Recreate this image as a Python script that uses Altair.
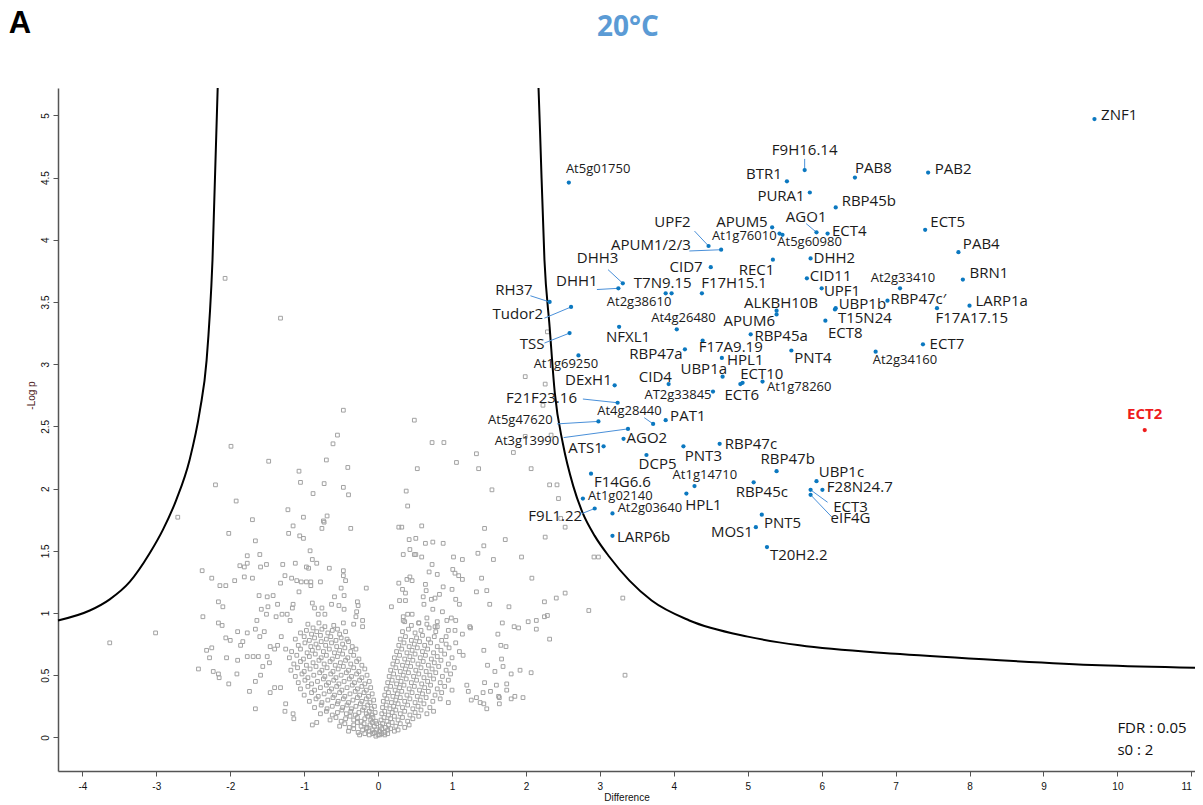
import re
import altair as alt
import pandas as pd

# ---------------- highlighted proteins (Difference, -Log p) ----------------
names = ["ZNF1", "F9H16.14", "At5g01750", "BTR1", "PAB8", "PAB2", "PURA1", "RBP45b", "ECT5", "AGO1",
         "ECT4", "APUM5", "At1g76010", "At5g60980", "UPF2", "APUM1/2/3", "PAB4", "DHH2", "REC1", "CID7",
         "CID11", "At2g33410", "BRN1", "DHH3", "DHH1", "T7N9.15", "At2g38610", "F17H15.1", "UPF1", "RH37",
         "ALKBH10B", "UBP1b", "RBP47c′", "LARP1a", "Tudor2", "At4g26480", "APUM6", "T15N24", "F17A17.15", "TSS",
         "NFXL1", "RBP45a", "ECT8", "ECT7", "RBP47a", "F17A9.19", "HPL1", "PNT4", "At2g34160", "At1g69250",
         "UBP1a", "ECT10", "At1g78260", "ECT6", "CID4", "DExH1", "AT2g33845", "F21F23.16", "At4g28440", "PAT1",
         "At5g47620", "At3g13990", "AGO2", "ATS1", "PNT3", "RBP47c", "DCP5", "RBP47b", "F14G6.6", "At1g14710",
         "UBP1c", "RBP45c", "F28N24.7", "ECT3", "eIF4G", "HPL1", "At1g02140", "F9L1.22", "At2g03640", "PNT5",
         "MOS1", "LARP6b", "T20H2.2"]
diff = [9.69, 5.77, 2.58, 5.53, 6.45, 7.44, 5.84, 6.19, 7.40, 5.93,
        6.08, 5.33, 5.43, 5.47, 4.47, 4.64, 7.85, 5.85, 5.34, 4.50,
        5.80, 7.06, 7.91, 3.31, 3.25, 3.97, 3.89, 4.38, 6.00, 2.32,
        5.39, 6.19, 6.89, 8.00, 2.61, 4.04, 5.39, 6.18, 7.56, 2.59,
        3.26, 5.04, 6.05, 7.37, 4.15, 4.39, 4.65, 5.59, 6.73, 2.71,
        4.66, 4.93, 5.20, 4.90, 3.93, 3.20, 4.53, 3.24, 3.72, 3.89,
        2.98, 3.38, 3.32, 3.05, 4.13, 4.62, 3.63, 5.39, 2.88, 4.28,
        5.93, 5.08, 6.01, 5.85, 5.85, 4.17, 2.77, 2.93, 3.17, 5.19,
        5.11, 3.17, 5.26]
logp = [4.97, 4.56, 4.46, 4.47, 4.50, 4.54, 4.38, 4.26, 4.08, 4.06,
        4.05, 4.10, 4.05, 4.04, 3.95, 3.92, 3.90, 3.85, 3.84, 3.78,
        3.69, 3.61, 3.68, 3.65, 3.61, 3.57, 3.57, 3.57, 3.61, 3.50,
        3.43, 3.45, 3.51, 3.47, 3.46, 3.28, 3.40, 3.44, 3.45, 3.25,
        3.30, 3.24, 3.35, 3.16, 3.12, 3.19, 3.05, 3.11, 3.10, 3.07,
        2.90, 2.85, 2.86, 2.84, 2.84, 2.83, 2.78, 2.69, 2.52, 2.55,
        2.54, 2.48, 2.40, 2.34, 2.34, 2.36, 2.27, 2.14, 2.12, 2.02,
        2.06, 2.05, 1.99, 1.99, 1.95, 1.96, 1.92, 1.84, 1.80, 1.79,
        1.69, 1.62, 1.53]

# bait
bait_name = ["ECT2"]
bait_diff = [10.37]
bait_logp = [2.47]

# ---------------- label placement (annotation) ----------------
lab_x = [9.78, 5.77, 2.54, 5.46, 6.45, 7.53, 5.77, 6.27, 7.47, 5.79,
         6.14, 5.27, 5.39, 5.40, 3.98, 3.69, 7.91, 5.89, 5.36, 4.39,
         5.84, 7.10, 8.00, 2.97, 2.97, 3.85, 3.53, 4.37, 6.03, 2.09,
         5.45, 6.23, 6.93, 8.08, 2.23, 4.13, 5.37, 6.22, 7.54, 2.25,
         3.38, 5.09, 6.32, 7.46, 4.12, 4.77, 4.72, 5.63, 6.69, 2.54,
         4.72, 5.19, 5.26, 4.92, 3.75, 3.16, 4.51, 2.69, 3.40, 3.95,
         2.36, 2.45, 3.36, 3.04, 4.40, 4.69, 3.78, 5.54, 2.92, 4.42,
         5.96, 5.19, 6.07, 6.39, 6.39, 4.40, 2.84, 2.76, 3.24, 5.22,
         5.07, 3.23, 5.30]
lab_y = [5.00, 4.72, 4.57, 4.53, 4.58, 4.57, 4.35, 4.31, 4.14, 4.18,
         4.07, 4.14, 4.03, 3.98, 4.14, 3.96, 3.97, 3.85, 3.76, 3.78,
         3.71, 3.69, 3.73, 3.85, 3.67, 3.65, 3.50, 3.65, 3.59, 3.60,
         3.49, 3.48, 3.52, 3.51, 3.40, 3.37, 3.35, 3.37, 3.37, 3.16,
         3.22, 3.23, 3.25, 3.16, 3.08, 3.14, 3.03, 3.05, 3.03, 3.00,
         2.96, 2.92, 2.82, 2.75, 2.90, 2.87, 2.75, 2.73, 2.62, 2.58,
         2.55, 2.38, 2.41, 2.33, 2.26, 2.36, 2.20, 2.24, 2.05, 2.11,
         2.13, 1.97, 2.01, 1.85, 1.76, 1.87, 1.94, 1.78, 1.84, 1.72,
         1.65, 1.61, 1.47]
lab_al = ["left", "center", "left", "right", "left", "left", "right", "left", "left", "center",
          "left", "right", "right", "left", "center", "center", "left", "left", "right", "right",
          "left", "center", "left", "center", "right", "center", "center", "left", "left", "right",
          "center", "left", "left", "left", "right", "center", "right", "left", "left", "right",
          "center", "left", "center", "left", "right", "center", "left", "left", "left", "center",
          "right", "center", "left", "center", "center", "right", "right", "right", "center", "left",
          "right", "right", "left", "right", "center", "left", "center", "center", "left", "center",
          "left", "center", "left", "center", "center", "center", "left", "right", "left", "left",
          "right", "left", "left"]

# leader lines: label name -> end point near label
lead_name = ["F9H16.14", "AGO1", "UPF2", "APUM1/2/3", "DHH3", "DHH1", "RH37", "Tudor2", "TSS",
             "F21F23.16", "At4g28440", "At5g47620", "At3g13990", "ECT3", "eIF4G", "F9L1.22"]
lead_x2 = [5.77, 5.79, 4.28, 4.21, 3.11, 2.96, 2.06, 2.25, 2.25, 2.77, 3.60, 2.42, 2.51, 6.08, 6.14, 2.76]
lead_y2 = [4.65, 4.13, 4.07, 3.91, 3.76, 3.60, 3.55, 3.37, 3.17, 2.72, 2.57, 2.52, 2.41, 1.89, 1.77, 1.80]

# ---------------- FDR threshold curves ----------------
curve_r_x = [2.17, 2.19, 2.25, 2.32, 2.39, 2.50, 2.64, 2.77, 2.93, 3.13, 3.40, 3.70, 4.21, 5.00, 5.70, 7.06, 8.41, 9.76, 11.05]
curve_r_y = [5.22, 4.88, 3.84, 3.30, 2.77, 2.36, 2.02, 1.80, 1.62, 1.45, 1.26, 1.10, 0.94, 0.81, 0.74, 0.67, 0.62, 0.58, 0.56]
curve_l_x = [-2.17, -2.24, -2.32, -2.41, -2.55, -2.73, -2.91, -3.09, -3.36, -3.63, -3.90, -4.33]
curve_l_y = [5.22, 3.84, 3.03, 2.63, 2.23, 1.91, 1.67, 1.48, 1.25, 1.11, 1.02, 0.94]

# ---------------- background proteins (Difference, -Log p) ----------------
gray_outer = [
    (-2.07, 3.69), (-1.32, 3.37), (2.29, 3.26), (1.99, 2.90), (2.26, 2.84), (-0.47, 2.63), (0.49, 2.55), (2.23, 2.67),
    (-0.55, 2.43), (-0.61, 2.36), (-1.99, 2.34), (0.73, 2.37), (0.89, 2.37), (1.99, 2.42), (2.34, 2.43), (1.83, 2.29),
    (1.33, 2.28), (-1.48, 2.22), (-0.70, 2.23), (-1.07, 2.14), (-0.41, 2.17), (1.06, 2.21), (0.53, 2.16), (1.36, 2.16),
    (2.07, 2.16), (-2.20, 2.03), (-1.05, 2.05), (-0.73, 2.04), (-0.47, 2.01), (-0.88, 1.96), (-0.40, 1.95), (0.38, 1.98),
    (1.54, 1.99), (2.32, 2.03), (2.42, 2.03), (-1.92, 1.90), (2.44, 1.92), (-1.22, 1.83), (0.40, 1.86), (-2.71, 1.77),
    (-1.70, 1.75), (-1.01, 1.77), (-0.69, 1.78), (-0.73, 1.73), (-1.15, 1.70), (0.59, 1.70), (0.32, 1.69), (0.28, 1.69),
    (1.44, 1.68), (2.47, 1.76), (2.53, 1.69), (-0.37, 1.68), (-0.76, 1.68), (-3.01, 0.84), (-3.63, 0.76), (3.34, 0.50),
    (3.31, 1.12), (2.85, 1.02), (2.92, 1.45), (2.98, 1.45), (2.26, 1.61), (2.41, 1.12), (2.53, 1.16), (2.25, 1.09),
    (2.29, 0.98), (2.25, 0.97), (2.32, 0.79), (2.14, 0.94), (2.14, 0.87), (2.03, 0.93), (2.08, 1.28), (1.94, 1.45),
    (1.72, 1.59), (1.43, 1.54), (1.35, 1.48), (1.56, 1.43), (1.40, 1.28), (1.47, 1.18), (1.33, 1.17), (1.51, 1.07),
    (1.77, 1.05), (1.62, 0.83), (1.68, 0.92), (1.84, 0.89), (1.90, 0.88), (1.66, 0.74), (1.73, 0.73), (1.67, 0.63),
    (1.58, 0.53), (1.69, 0.57), (1.80, 0.51), (1.92, 0.54), (2.07, 0.52), (1.74, 0.43), (1.74, 0.38), (1.63, 0.33),
    (1.64, 0.32), (1.80, 0.31), (1.85, 0.33), (1.96, 0.32), (1.64, 0.27), (1.43, 0.70), (1.48, 0.58), (1.44, 0.44),
    (1.52, 0.37), (1.42, 0.36), (1.60, 0.42), (1.26, 0.30), (1.33, 0.32), (1.38, 0.28), (1.43, 0.27), (1.47, 0.23),
    (1.20, 0.42), (1.22, 0.37), (1.25, 0.88), (1.00, 1.19), (0.88, 1.21), (1.02, 1.45), (1.14, 1.43), (0.88, 1.56),
    (0.74, 1.57), (0.64, 1.56), (0.42, 1.59), (0.51, 1.60), (0.34, 1.47), (0.49, 1.47), (0.51, 1.47), (0.59, 1.45),
    (0.43, 1.51), (0.73, 1.39), (0.69, 1.33), (0.80, 1.31), (1.01, 1.35), (1.04, 1.32), (1.09, 1.30), (1.14, 1.27),
    (0.43, 1.29), (0.39, 1.27), (0.46, 1.26), (0.28, 1.24), (0.33, 1.19), (0.37, 1.16), (0.64, 1.23), (0.65, 1.18),
    (0.83, 1.15), (0.77, 1.12), (0.72, 1.11), (0.61, 1.13), (0.29, 1.10), (0.37, 1.10), (0.18, 1.05), (0.62, 1.07),
    (0.74, 1.03), (0.87, 1.01), (1.05, 1.11), (1.10, 1.07), (0.40, 0.99), (0.46, 0.99), (0.34, 0.97), (0.34, 0.94),
    (0.55, 0.92), (0.66, 0.96), (0.93, 0.94), (0.99, 0.96), (1.05, 0.94), (0.77, 0.89), (0.80, 0.89), (1.04, 0.86),
    (1.14, 0.83), (0.92, 0.81), (1.24, 0.89),
    (-2.02, 1.64), (-1.66, 1.58), (-1.77, 1.46), (-1.77, 1.40), (-1.60, 1.47), (-1.51, 1.39), (-1.59, 1.37), (-1.87, 1.38),
    (-1.81, 1.37), (-1.21, 1.64), (-1.06, 1.62), (-1.01, 1.60), (-0.74, 1.74), (-0.92, 1.50), (-0.89, 1.43), (-0.83, 1.40),
    (-0.97, 1.37), (-0.94, 1.36), (-1.12, 1.40), (-0.66, 1.36), (-1.29, 1.39), (-2.38, 1.34), (-2.25, 1.28), (-2.14, 1.22),
    (-2.06, 1.22), (-1.94, 1.26), (-1.81, 1.29), (-1.70, 1.28), (-1.26, 1.30), (-1.17, 1.28), (-1.10, 1.26), (-1.04, 1.25),
    (-0.97, 1.25), (-0.91, 1.25), (-0.91, 1.22), (-1.32, 1.24), (-0.78, 1.25), (-1.07, 1.17), (-0.47, 1.34), (-0.47, 1.30),
    (-0.44, 1.26), (-0.50, 1.20), (-0.46, 1.14), (-0.16, 1.20), (-2.16, 1.09), (-2.10, 1.05), (-2.37, 0.97), (-1.61, 1.14),
    (-1.50, 1.13), (-1.42, 1.14), (-1.58, 1.03), (-1.49, 1.05), (-1.36, 1.07), (-1.15, 1.07), (-1.16, 1.04), (-0.89, 1.08),
    (-0.86, 1.04), (-0.76, 1.04), (-0.72, 0.99), (-0.81, 0.99), (-0.63, 1.07), (-0.59, 1.13), (-0.53, 1.06), (-0.46, 1.03),
    (-0.28, 1.09), (-0.27, 1.06), (-0.29, 1.01), (-0.30, 0.97), (-0.21, 0.94), (-0.21, 0.89), (-0.33, 0.91), (-2.16, 0.92),
    (-2.11, 0.90), (-1.90, 0.85), (-1.77, 0.84), (-1.66, 0.87), (-1.60, 0.81), (-1.54, 0.85), (-2.06, 0.80), (-2.00, 0.78),
    (-1.86, 0.74), (-1.83, 0.77), (-2.32, 0.70), (-2.25, 0.72), (-2.28, 0.64), (-2.05, 0.64), (-1.90, 0.62), (-1.77, 0.65),
    (-1.69, 0.65), (-1.62, 0.65), (-1.50, 0.65), (-1.47, 0.60), (-2.43, 0.55), (-2.23, 0.53), (-2.16, 0.51), (-2.15, 0.48),
    (-2.02, 0.43), (-1.91, 0.51), (-1.74, 0.37), (-1.66, 0.23), (-1.66, 0.45), (-1.59, 0.50), (-1.56, 0.57), (-1.46, 0.73),
    (-1.40, 0.71), (-1.36, 0.74), (-1.64, 0.94), (-1.51, 0.99), (-1.38, 0.97), (-1.30, 0.99), (-1.23, 0.99), (-1.19, 0.94),
    (-1.46, 0.36), (-1.40, 0.40), (-1.32, 0.40), (-1.25, 0.27), (-1.26, 0.21), (-1.14, 0.15), (-1.15, 0.19), (-0.89, 0.10),
    (-0.83, 0.12), (-1.31, 0.81), (-1.25, 0.71),
]

gray_left_core = [
    (-0.95, 0.91), (-0.88, 0.88), (-0.80, 0.92), (-0.72, 0.89), (-0.60, 0.90), (-0.55, 0.87), (-0.47, 0.92),
    (-1.05, 0.84), (-0.97, 0.86), (-0.90, 0.83), (-0.83, 0.85), (-0.76, 0.87), (-0.68, 0.84), (-0.62, 0.86), (-0.52, 0.83), (-0.44, 0.85),
    (-1.12, 0.79), (-1.00, 0.81), (-0.93, 0.78), (-0.86, 0.80), (-0.78, 0.82), (-0.70, 0.79), (-0.64, 0.81), (-0.57, 0.78), (-0.50, 0.80), (-0.42, 0.79),
    (-1.08, 0.74), (-0.99, 0.76), (-0.91, 0.73), (-0.84, 0.75), (-0.77, 0.77), (-0.71, 0.74), (-0.63, 0.76), (-0.56, 0.73), (-0.48, 0.75), (-0.40, 0.77), (-0.35, 0.73),
    (-1.17, 0.69), (-1.05, 0.71), (-0.96, 0.68), (-0.89, 0.70), (-0.81, 0.72), (-0.74, 0.69), (-0.66, 0.71), (-0.59, 0.68), (-0.52, 0.70), (-0.45, 0.72), (-0.37, 0.69), (-0.30, 0.71),
    (-1.20, 0.64), (-1.10, 0.66), (-1.01, 0.63), (-0.93, 0.65), (-0.85, 0.67), (-0.77, 0.64), (-0.70, 0.66), (-0.62, 0.63), (-0.55, 0.65), (-0.48, 0.67), (-0.41, 0.64), (-0.33, 0.66), (-0.26, 0.63),
    (-1.14, 0.59), (-1.05, 0.61), (-0.97, 0.58), (-0.88, 0.60), (-0.80, 0.62), (-0.73, 0.59), (-0.65, 0.61), (-0.58, 0.58), (-0.51, 0.60), (-0.44, 0.62), (-0.37, 0.59), (-0.29, 0.61), (-0.22, 0.58),
    (-1.18, 0.54), (-1.09, 0.56), (-1.00, 0.53), (-0.92, 0.55), (-0.84, 0.57), (-0.76, 0.54), (-0.69, 0.56), (-0.61, 0.53), (-0.54, 0.55), (-0.47, 0.57), (-0.40, 0.54), (-0.33, 0.56), (-0.26, 0.53), (-0.18, 0.55),
    (-1.12, 0.49), (-1.03, 0.51), (-0.95, 0.48), (-0.87, 0.50), (-0.79, 0.52), (-0.72, 0.49), (-0.64, 0.51), (-0.57, 0.48), (-0.50, 0.50), (-0.43, 0.52), (-0.36, 0.49), (-0.29, 0.51), (-0.22, 0.48), (-0.15, 0.50),
    (-1.08, 0.44), (-0.99, 0.46), (-0.90, 0.43), (-0.82, 0.45), (-0.74, 0.47), (-0.67, 0.44), (-0.60, 0.46), (-0.53, 0.43), (-0.46, 0.45), (-0.39, 0.47), (-0.32, 0.44), (-0.25, 0.46), (-0.18, 0.43), (-0.12, 0.45),
    (-1.05, 0.39), (-0.95, 0.41), (-0.86, 0.38), (-0.78, 0.40), (-0.70, 0.42), (-0.63, 0.39), (-0.56, 0.41), (-0.49, 0.38), (-0.42, 0.40), (-0.35, 0.42), (-0.28, 0.39), (-0.22, 0.41), (-0.16, 0.38), (-0.10, 0.40),
    (-1.00, 0.34), (-0.90, 0.36), (-0.81, 0.33), (-0.73, 0.35), (-0.66, 0.37), (-0.59, 0.34), (-0.52, 0.36), (-0.45, 0.33), (-0.38, 0.35), (-0.31, 0.37), (-0.25, 0.34), (-0.19, 0.36), (-0.13, 0.33), (-0.08, 0.35),
    (-0.93, 0.29), (-0.84, 0.31), (-0.76, 0.28), (-0.68, 0.30), (-0.61, 0.32), (-0.54, 0.29), (-0.47, 0.31), (-0.40, 0.28), (-0.34, 0.30), (-0.28, 0.32), (-0.22, 0.29), (-0.16, 0.31), (-0.11, 0.28), (-0.06, 0.30),
    (-0.86, 0.24), (-0.77, 0.26), (-0.69, 0.23), (-0.62, 0.25), (-0.55, 0.27), (-0.48, 0.24), (-0.42, 0.26), (-0.36, 0.23), (-0.30, 0.25), (-0.24, 0.27), (-0.19, 0.24), (-0.14, 0.26), (-0.09, 0.23), (-0.05, 0.25),
    (-0.78, 0.19), (-0.70, 0.21), (-0.62, 0.18), (-0.55, 0.20), (-0.49, 0.22), (-0.43, 0.19), (-0.37, 0.21), (-0.31, 0.18), (-0.26, 0.20), (-0.21, 0.22), (-0.16, 0.19), (-0.12, 0.21), (-0.08, 0.18), (-0.04, 0.20),
    (-0.65, 0.14), (-0.57, 0.16), (-0.50, 0.13), (-0.44, 0.15), (-0.38, 0.17), (-0.33, 0.14), (-0.28, 0.16), (-0.23, 0.13), (-0.18, 0.15), (-0.14, 0.17), (-0.10, 0.14), (-0.07, 0.16), (-0.03, 0.13),
    (-0.52, 0.09), (-0.45, 0.11), (-0.39, 0.08), (-0.33, 0.10), (-0.28, 0.12), (-0.23, 0.09), (-0.19, 0.11), (-0.15, 0.08), (-0.11, 0.10), (-0.08, 0.12), (-0.05, 0.09), (-0.02, 0.11),
    (-0.40, 0.05), (-0.33, 0.07), (-0.27, 0.04), (-0.21, 0.06), (-0.16, 0.07), (-0.12, 0.05), (-0.08, 0.06), (-0.05, 0.04), (-0.02, 0.06),
    (-0.25, 0.02), (-0.18, 0.03), (-0.12, 0.02), (-0.07, 0.03), (-0.03, 0.01), (0.00, 0.02),
]

gray_right_core = [
    (0.36, 0.93), (0.45, 0.90), (0.55, 0.92), (0.66, 0.91), (0.80, 0.93),
    (0.33, 0.85), (0.41, 0.87), (0.50, 0.84), (0.58, 0.86), (0.69, 0.88), (0.78, 0.85), (0.95, 0.86),
    (0.30, 0.79), (0.37, 0.81), (0.45, 0.78), (0.52, 0.80), (0.60, 0.82), (0.68, 0.79), (0.76, 0.81), (0.86, 0.78),
    (0.28, 0.74), (0.35, 0.76), (0.42, 0.73), (0.49, 0.75), (0.56, 0.77), (0.63, 0.74), (0.71, 0.76), (0.80, 0.73), (0.92, 0.75), (1.05, 0.76),
    (0.25, 0.69), (0.32, 0.71), (0.39, 0.68), (0.46, 0.70), (0.53, 0.72), (0.60, 0.69), (0.67, 0.71), (0.75, 0.68), (0.85, 0.70), (0.96, 0.72), (1.10, 0.69),
    (0.22, 0.64), (0.29, 0.66), (0.36, 0.63), (0.43, 0.65), (0.50, 0.67), (0.57, 0.64), (0.64, 0.66), (0.72, 0.63), (0.80, 0.65), (0.90, 0.67), (1.00, 0.64), (1.15, 0.66),
    (0.20, 0.59), (0.26, 0.61), (0.33, 0.58), (0.40, 0.60), (0.47, 0.62), (0.54, 0.59), (0.61, 0.61), (0.68, 0.58), (0.76, 0.60), (0.85, 0.62), (0.95, 0.59),
    (0.17, 0.54), (0.24, 0.56), (0.30, 0.53), (0.37, 0.55), (0.44, 0.57), (0.51, 0.54), (0.58, 0.56), (0.65, 0.53), (0.73, 0.55), (0.82, 0.57), (0.92, 0.54), (1.03, 0.56),
    (0.15, 0.49), (0.21, 0.51), (0.27, 0.48), (0.34, 0.50), (0.41, 0.52), (0.48, 0.49), (0.55, 0.51), (0.62, 0.48), (0.70, 0.50), (0.78, 0.52), (0.87, 0.49), (0.98, 0.51),
    (0.13, 0.44), (0.19, 0.46), (0.25, 0.43), (0.31, 0.45), (0.38, 0.47), (0.45, 0.44), (0.52, 0.46), (0.59, 0.43), (0.67, 0.45), (0.75, 0.47), (0.84, 0.44), (0.95, 0.46),
    (0.11, 0.39), (0.17, 0.41), (0.23, 0.38), (0.29, 0.40), (0.35, 0.42), (0.42, 0.39), (0.49, 0.41), (0.56, 0.38), (0.63, 0.40), (0.71, 0.42), (0.80, 0.39), (0.90, 0.41), (1.00, 0.38),
    (0.09, 0.34), (0.14, 0.36), (0.20, 0.33), (0.26, 0.35), (0.32, 0.37), (0.39, 0.34), (0.46, 0.36), (0.53, 0.33), (0.60, 0.35), (0.68, 0.37), (0.77, 0.34), (0.86, 0.36),
    (0.07, 0.29), (0.12, 0.31), (0.18, 0.28), (0.24, 0.30), (0.30, 0.32), (0.36, 0.29), (0.43, 0.31), (0.50, 0.28), (0.57, 0.30), (0.65, 0.32), (0.74, 0.29), (0.84, 0.31), (0.95, 0.28),
    (0.06, 0.24), (0.11, 0.26), (0.16, 0.23), (0.21, 0.25), (0.27, 0.27), (0.33, 0.24), (0.40, 0.26), (0.47, 0.23), (0.54, 0.25), (0.62, 0.27), (0.70, 0.24),
    (0.05, 0.19), (0.09, 0.21), (0.14, 0.18), (0.19, 0.20), (0.24, 0.22), (0.30, 0.19), (0.36, 0.21), (0.43, 0.18), (0.50, 0.20), (0.58, 0.22), (0.66, 0.19), (0.75, 0.21),
    (0.04, 0.14), (0.08, 0.16), (0.12, 0.13), (0.17, 0.15), (0.22, 0.17), (0.27, 0.14), (0.33, 0.16), (0.40, 0.13), (0.47, 0.15), (0.55, 0.17),
    (0.03, 0.09), (0.06, 0.11), (0.10, 0.08), (0.14, 0.10), (0.19, 0.12), (0.24, 0.09), (0.30, 0.11), (0.36, 0.08), (0.42, 0.10),
    (0.02, 0.05), (0.05, 0.07), (0.09, 0.04), (0.13, 0.06), (0.17, 0.07), (0.22, 0.05), (0.27, 0.06),
    (0.02, 0.02), (0.05, 0.03), (0.09, 0.02), (0.13, 0.03),
]

x_ticks = list(range(-4, 12))
y_ticks = [0, 0.5, 1, 1.5, 2, 2.5, 3, 3.5, 4, 4.5, 5]

# ---------------- build tables ----------------
gray_all = gray_outer + gray_left_core + gray_right_core
df_gray = pd.DataFrame({"x": [p[0] for p in gray_all], "y": [p[1] for p in gray_all]})
df_hit = pd.DataFrame({"name": names, "x": diff, "y": logp})
df_bait = pd.DataFrame({"name": bait_name, "x": bait_diff, "y": bait_logp})
df_curve = pd.concat([
    pd.DataFrame({"x": curve_r_x, "y": curve_r_y, "branch": "right", "i": range(len(curve_r_x))}),
    pd.DataFrame({"x": curve_l_x, "y": curve_l_y, "branch": "left", "i": range(len(curve_l_x))}),
])

is_id = re.compile(r"^A[tT]\dg\d+")
df_lab = pd.DataFrame({"name": names, "lx": lab_x, "ly": lab_y, "al": lab_al})
df_lab["fs"] = [13 if is_id.match(n) else 15 for n in names]

pos = {n: (x, y) for n, x, y in zip(names, diff, logp)}
df_lead = pd.DataFrame({
    "x": [pos[n][0] for n in lead_name], "y": [pos[n][1] for n in lead_name],
    "x2": lead_x2, "y2": lead_y2,
})

XS = alt.Scale(domain=[-4.33, 11.05], nice=False, zero=False)
YS = alt.Scale(domain=[-0.27, 5.22], nice=False, zero=False)
XA = alt.Axis(values=x_ticks, labelExpr="datum.value + ''", title="Difference", grid=False,
              tickSize=5, labelFontSize=10, labelFont="Liberation Sans", labelColor="#111",
              labelAlign={"condition": {"test": "datum.value == 11", "value": "right"}, "value": "center"},
              titleFont="Liberation Sans", titleFontSize=10, titleFontWeight="normal", titleColor="#111",
              titlePadding=1, labelPadding=5, domainColor="#555", tickColor="#555", domainWidth=1.5)
YA = alt.Axis(values=y_ticks, labelExpr="datum.value + ''", title="-Log p", grid=False,
              tickSize=5, labelFontSize=10, labelFont="Liberation Sans", labelColor="#111",
              labelAngle=-90, labelAlign="center", labelBaseline="bottom", labelPadding=3,
              titleFont="Liberation Sans", titleFontSize=10, titleFontWeight="normal", titleColor="#4e1a1a",
              titlePadding=4, titleY=307, domainColor="#555", tickColor="#555", domainWidth=1.5)


def X(field):
    return alt.X(field, type="quantitative", scale=XS, axis=XA)


def Y(field):
    return alt.Y(field, type="quantitative", scale=YS, axis=YA)


gray = alt.Chart(df_gray).mark_point(shape="square", filled=False, size=14, color="#a2a2a2",
                                      strokeWidth=1, opacity=1).encode(x=X("x"), y=Y("y"))

curves = alt.Chart(df_curve).mark_line(color="black", strokeWidth=2, interpolate="monotone").encode(
    x=X("x"), y=Y("y"), detail="branch:N", order="i:Q")

leaders = alt.Chart(df_lead).mark_rule(color="#4a90d9", strokeWidth=1).encode(
    x=X("x"), y=Y("y"), x2="x2", y2="y2")

dots = alt.Chart(df_hit).mark_circle(size=18, color="#0b78c0", opacity=1).encode(x=X("x"), y=Y("y"))
bait = alt.Chart(df_bait).mark_circle(size=18, color="#ee1c1c", opacity=1).encode(x=X("x"), y=Y("y"))

label_layers = []
for al in ["left", "right", "center"]:
    sub = df_lab[df_lab["al"] == al]
    label_layers.append(
        alt.Chart(sub).mark_text(align=al, baseline="middle", font="Open Sans", color="#1a1a1a").encode(
            x=X("lx"), y=Y("ly"), text="name:N", size=alt.Size("fs:Q", scale=None, legend=None))
    )

bait_label = alt.Chart(df_bait).mark_text(align="center", baseline="middle", font="Open Sans",
                                          fontWeight="bold", fontSize=15, color="#ee1c1c", dy=-16).encode(
    x=X("x"), y=Y("y"), text="name:N")

df_fdr = pd.DataFrame({"t": ["FDR : 0.05", "s0 : 2"], "x": [10.0, 10.0], "y": [0.076, -0.10]})
fdr = alt.Chart(df_fdr).mark_text(align="left", baseline="middle", font="Open Sans", fontSize=15,
                                   color="#111").encode(x=X("x"), y=Y("y"), text="t:N")

one = pd.DataFrame({"t": ["20°C"]})
title_txt = alt.Chart(one).mark_text(align="center", baseline="middle", font="Open Sans", fontWeight="bold",
                                      fontSize=28, color="#5B9BD5").encode(
    x=alt.value(570), y=alt.value(-60), text="t:N")
panel = alt.Chart(pd.DataFrame({"t": ["A"]})).mark_text(align="center", baseline="middle",
                                                         font="Liberation Sans", fontWeight="bold",
                                                         fontSize=31, color="black").encode(
    x=alt.value(-38), y=alt.value(-64), text="t:N")

chart = alt.layer(gray, curves, leaders, dots, bait, *label_layers, bait_label, fdr, title_txt, panel).properties(
    width=1137, height=683,
    autosize=alt.AutoSizeParams(type="none"),
    padding={"left": 50, "top": 80, "right": 0, "bottom": 30},
).configure_view(stroke=None)

chart.save("out.html", embed_options={"renderer": "svg", "actions": False})
